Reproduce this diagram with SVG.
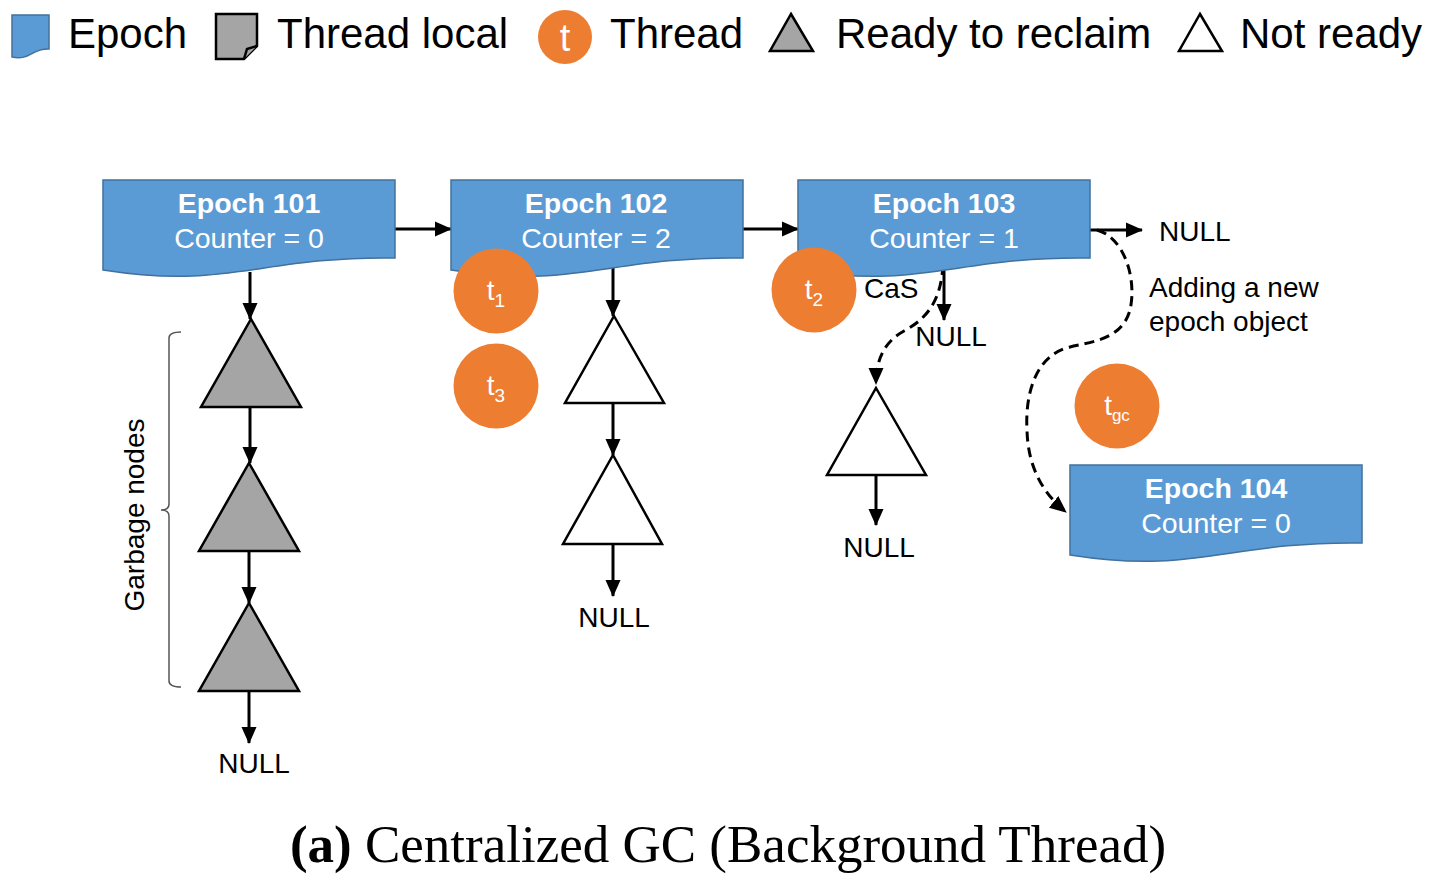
<svg xmlns="http://www.w3.org/2000/svg" xmlns:xlink="http://www.w3.org/1999/xlink" width="1440" height="887" viewBox="0 0 1440 887">
<style>
.sans{font-family:"Liberation Sans",Arial,sans-serif}
.epoch{fill:#5B9BD5;stroke:#41719C;stroke-width:1.5}
.ew{fill:#fff;font-family:"Liberation Sans",Arial,sans-serif;font-size:28.5px;text-anchor:middle}
.lbl{fill:#000;font-family:"Liberation Sans",Arial,sans-serif;font-size:28px}
.leg{fill:#000;font-family:"Liberation Sans",Arial,sans-serif;font-size:42px}
.thr{fill:#ED7D31}
.tt{fill:#fff;font-family:"Liberation Sans",Arial,sans-serif;font-size:28px;text-anchor:middle}
.gray{fill:#A5A5A5;stroke:#000;stroke-width:2.5}
.white{fill:#fff;stroke:#000;stroke-width:2.5}
.conn{fill:none;stroke:#000;stroke-width:3}
.dash{fill:none;stroke:#000;stroke-width:3;stroke-dasharray:10 6}
</style>
<defs>
<path id="doc" d="M0,0 H292 V78 C157,76 127,110 0,90 Z"/>
<marker id="ah" markerUnits="userSpaceOnUse" markerWidth="17" markerHeight="17" viewBox="0 0 17 17" refX="16" refY="8.5" orient="auto">
<path d="M0,1 L17,8.5 L0,16 Z" fill="#000"/>
</marker>
</defs>
<rect width="1440" height="887" fill="#fff"/>

<g id="legend">
<path class="epoch" d="M12,15 H49 V49 C32,48 30,61 12,57 Z"/>
<text class="leg" x="68" y="48">Epoch</text>
<path d="M216,14 H257 V46 L244,59 H216 Z" fill="#A5A5A5" stroke="#000" stroke-width="2.5"/>
<path d="M244,59 L247,49 L257,46" fill="#A5A5A5" stroke="#000" stroke-width="2.5"/>
<text class="leg" x="277" y="48">Thread local</text>
<circle class="thr" cx="565" cy="37" r="27"/>
<text x="565" y="51" fill="#fff" font-size="38" text-anchor="middle" class="sans">t</text>
<text class="leg" x="610" y="48">Thread</text>
<polygon class="gray" points="791,14 813,51 770,51" stroke-width="2"/>
<text class="leg" x="836" y="48">Ready to reclaim</text>
<polygon class="white" points="1200,14 1222,51 1179,51" stroke-width="2"/>
<text class="leg" x="1240" y="48">Not ready</text>
</g>

<g id="connectors">
<line class="conn" x1="395" y1="229" x2="451" y2="229" marker-end="url(#ah)"/>
<line class="conn" x1="742" y1="229" x2="798" y2="229" marker-end="url(#ah)"/>
<line class="conn" x1="1090" y1="230" x2="1142" y2="230" marker-end="url(#ah)"/>
<line class="conn" x1="250" y1="272" x2="250" y2="319" marker-end="url(#ah)"/>
<line class="conn" x1="250" y1="407" x2="250" y2="463" marker-end="url(#ah)"/>
<line class="conn" x1="249" y1="551" x2="249" y2="603" marker-end="url(#ah)"/>
<line class="conn" x1="249" y1="691" x2="249" y2="743" marker-end="url(#ah)"/>
<line class="conn" x1="613" y1="259" x2="613" y2="316" marker-end="url(#ah)"/>
<line class="conn" x1="613" y1="403" x2="613" y2="455" marker-end="url(#ah)"/>
<line class="conn" x1="613" y1="544" x2="613" y2="596" marker-end="url(#ah)"/>
<line class="conn" x1="944" y1="263" x2="944" y2="320" marker-end="url(#ah)"/>
<line class="conn" x1="876" y1="475" x2="876" y2="525" marker-end="url(#ah)"/>
<path class="dash" d="M943,265 C941,300 928,318 904,331 C884,342 876,360 876,384" marker-end="url(#ah)"/>
<path class="dash" d="M1097,230 C1125,238 1137,280 1130,310 C1122,340 1090,342 1070,347 C1035,355 1025,395 1027,430 C1028,470 1045,495 1066,512" marker-end="url(#ah)"/>
</g>

<g id="epoch101">
<use xlink:href="#doc" class="epoch" transform="translate(103,180)"/>
<text class="ew" x="249" y="213" font-weight="bold">Epoch 101</text>
<text class="ew" x="249" y="248">Counter = 0</text>
</g>
<g id="epoch102">
<use xlink:href="#doc" class="epoch" transform="translate(451,180)"/>
<text class="ew" x="596" y="213" font-weight="bold">Epoch 102</text>
<text class="ew" x="596" y="248">Counter = 2</text>
</g>
<g id="epoch103">
<use xlink:href="#doc" class="epoch" transform="translate(798,180)"/>
<text class="ew" x="944" y="213" font-weight="bold">Epoch 103</text>
<text class="ew" x="944" y="248">Counter = 1</text>
</g>
<g id="epoch104">
<use xlink:href="#doc" class="epoch" transform="translate(1070,465)"/>
<text class="ew" x="1216" y="498" font-weight="bold">Epoch 104</text>
<text class="ew" x="1216" y="533">Counter = 0</text>
</g>

<g id="thread-t1"><circle class="thr" cx="496" cy="291" r="42.5"/><text class="tt" x="496" y="300">t<tspan font-size="19" dy="7">1</tspan></text></g>
<g id="thread-t3"><circle class="thr" cx="496" cy="386" r="42.5"/><text class="tt" x="496" y="395">t<tspan font-size="19" dy="7">3</tspan></text></g>
<g id="thread-t2"><circle class="thr" cx="814" cy="290" r="42.5"/><text class="tt" x="814" y="299">t<tspan font-size="19" dy="7">2</tspan></text></g>
<g id="thread-tgc"><circle class="thr" cx="1117" cy="406" r="42.5"/><text class="tt" x="1117" y="415">t<tspan font-size="17" dy="6">gc</tspan></text></g>

<g id="garbage1"><polygon class="gray" points="251,319 301,407 201,407"/></g>
<g id="garbage2"><polygon class="gray" points="249,463 299,551 199,551"/></g>
<g id="garbage3"><polygon class="gray" points="249,603 299,691 199,691"/></g>
<g id="node102a"><polygon class="white" points="614,316 664,403 565,403"/></g>
<g id="node102b"><polygon class="white" points="613,455 662,544 563,544"/></g>
<g id="node103a"><polygon class="white" points="876,388 926,475 827,475"/></g>

<g id="brace">
<path d="M181,332 C174,332 169,333 169,338 V504 C169,508 166,510 161,510 C166,510 169,512 169,516 V681 C169,686 174,687 181,687" fill="none" stroke="#555" stroke-width="1.5"/>
<text class="lbl" transform="translate(144,515) rotate(-90)" text-anchor="middle">Garbage nodes</text>
</g>

<g id="labels">
<text class="lbl" x="1159" y="241">NULL</text>
<text class="lbl" x="254" y="773" text-anchor="middle">NULL</text>
<text class="lbl" x="614" y="627" text-anchor="middle">NULL</text>
<text class="lbl" x="951" y="346" text-anchor="middle">NULL</text>
<text class="lbl" x="879" y="557" text-anchor="middle">NULL</text>
<text class="lbl" x="864" y="298">CaS</text>
<text class="lbl" x="1149" y="297">Adding a new</text>
<text class="lbl" x="1149" y="331">epoch object</text>
</g>

<text x="728" y="862" text-anchor="middle" font-family="'Liberation Serif','Times New Roman',serif" font-size="53"><tspan font-weight="bold">(a)</tspan> Centralized GC (Background Thread)</text>
</svg>
